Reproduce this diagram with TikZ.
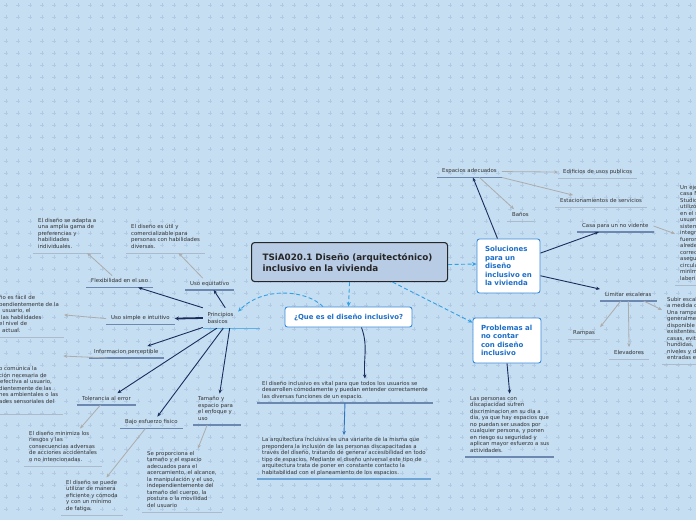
\documentclass[tikz,border=0pt]{standalone}
\usepackage{fontspec}
\setmainfont{DejaVu Sans}
\usetikzlibrary{arrows.meta}
\definecolor{bgblue}{RGB}{197,222,242}
\definecolor{plusc}{RGB}{178,202,225}
\definecolor{navy}{RGB}{27,45,92}
\definecolor{arrgrey}{RGB}{172,172,172}
\definecolor{steel}{RGB}{108,136,176}
\definecolor{pale}{RGB}{172,187,204}
\definecolor{sky}{RGB}{52,160,228}
\definecolor{boxblue}{RGB}{58,138,218}
\definecolor{boxtext}{RGB}{28,110,200}
\definecolor{mainfill}{RGB}{184,204,230}
\definecolor{txt}{RGB}{50,50,50}
\definecolor{arqline}{RGB}{110,165,215}
\definecolor{prinline}{RGB}{90,178,232}
\definecolor{arqarr}{RGB}{47,116,192}

\tikzset{
  topic/.style={font=\fontsize{5.4}{6.5}\selectfont, text=txt, align=left, inner xsep=5pt, inner ysep=2.5pt,
    execute at begin node=\strut, execute at end node=\strut},
  bluebox/.style={draw=boxblue, line width=0.9pt, fill=white, rounded corners=2.5pt, text=boxtext,
    font=\fontsize{7}{8.5}\selectfont\bfseries, align=left, inner xsep=8pt, inner ysep=0pt},
  navyarr/.style={navy, line width=0.9pt, -{Stealth[length=4pt,width=3.4pt]}},
  greyarr/.style={arrgrey, line width=0.8pt, -{Stealth[length=4pt,width=3.4pt]}},
  skyarr/.style={sky, line width=0.9pt, dash pattern=on 4pt off 2.5pt, -{Stealth[length=4.5pt,width=4pt]}},
  topicline/.style={steel, line width=1.3pt},
  descline/.style={pale, line width=0.9pt}
}

\begin{document}
\begin{tikzpicture}[x=1pt,y=-1pt]
\useasboundingbox (0,0) rectangle (696,520);
\fill[bgblue] (0,0) rectangle (696,520);
\foreach \x in {6,18,...,690}
  \foreach \y in {5,17,...,515}
    \draw[plusc,line width=0.5pt] (\x-1.6,\y) -- (\x+1.6,\y) (\x,\y-1.6) -- (\x,\y+1.6);

% main boxes
\node[draw=black!85, line width=1.1pt, fill=mainfill, rounded corners=3pt, text=black!85,
  font=\fontsize{8.8}{11}\selectfont\bfseries, align=left, text width=174pt, inner xsep=11pt,
  minimum height=39pt, anchor=north west] (central) at (251,242)
  {TSiA020.1 Diseño (arquitectónico)\\inclusivo en la vivienda};
\node[bluebox, font=\fontsize{6.9}{8}\selectfont\bfseries, align=center, minimum width=127pt,
  minimum height=20pt, inner xsep=0pt] (queesn) at (348.5,317) {¿Que es el diseño inclusivo?};
\node[bluebox, text width=47pt, minimum height=54pt] (solu) at (508.5,266)
  {Soluciones\\para un\\diseño\\inclusivo en\\la vivienda};
\node[bluebox, text width=52pt, minimum height=45pt] (probl) at (507,340.5)
  {Problemas al\\no contar\\con diseño\\inclusivo};
\node[font=\fontsize{5.4}{6.5}\selectfont, text=txt, align=left, minimum width=35pt,
  minimum height=20pt, inner sep=0pt] (prin) at (220.5,318) {Principios\\basicos};

% principles
\node[topic, anchor=south west] (equit) at (185,290) {Uso equitativo};
\node[topic, anchor=south west] (flex) at (86,287.5) {Flexibilidad en el uso};
\node[topic, anchor=south west] (usimple) at (106,324.5) {Uso simple e intuitivo};
\node[topic, anchor=south west] (infop) at (89,358) {Informacion perceptible};
\node[topic, anchor=south west] (toler) at (77,405) {Tolerancia al error};
\node[topic, anchor=south west] (bajo) at (120,428.5) {Bajo esfuerzo fisico};
\node[topic, anchor=south west, text width=38pt] (tamano) at (193,425)
  {Tamaño y\\espacio para\\el enfoque y\\uso};

\node[topic, anchor=south west] (flexd) at (33,253)
  {El diseño se adapta a\\una amplia gama de\\preferencias y\\habilidades\\individuales.};
\node[topic, anchor=south west] (equitd) at (126,253)
  {El diseño es útil y\\comercializable para\\personas con habilidades\\diversas.};
\node[topic, anchor=south west] (simpled) at (-6,337)
  {ño es fácil de\\pendientemente de la\\l usuario, el\\\hspace{2pt}las habilidades\\el nivel de\\\hspace{3pt}actual.};
\node[topic, anchor=south west] (infopd) at (-6,414.5)
  {o comunica la\\ción necesaria de\\\hspace{1pt}efectiva al usuario,\\dientemente de las\\nes ambientales o las\\ades sensoriales del\\};
\node[topic, anchor=south west] (tolerd) at (24,466)
  {El diseño minimiza los\\riesgos y las\\consecuencias adversas\\de acciones accidentales\\o no intencionadas.};
\node[topic, anchor=south west] (bajod) at (61,515)
  {El diseño se puede\\utilizar de manera\\eficiente y cómoda\\y con un mínimo\\de fatiga.};
\node[topic, anchor=south west] (tamanod) at (142,512)
  {Se proporciona el\\tamaño y el espacio\\adecuados para el\\acercamiento, el alcance,\\la manipulación y el uso,\\independientemente del\\tamaño del cuerpo, la\\postura o la movilidad\\del usuario};

% que es
\node[topic, anchor=south west] (vitald) at (257,403)
  {El diseño inclusivo es vital para que todos los usuarios se\\desarrollen cómodamente y puedan entender correctamente\\las diversas funciones de un espacio.};
\node[topic, anchor=south west] (arqd) at (257,479)
  {La arquitectura inclusiva es una variante de la misma que\\prepondera la inclusión de las personas discapacitadas a\\través del diseño, tratando de generar accesibilidad en todo\\tipo de espacios. Mediante el diseño universal este tipo de\\arquitectura trata de poner en constante contacto la\\habitabilidad con el planeamiento de los espacios.};

% soluciones / problemas
\node[topic, anchor=south west] (espacios) at (437,177.5) {Espacios adecuados};
\node[topic, anchor=south west] (edificios) at (558,178) {Edificios de usos publicos};
\node[topic, anchor=south west] (estac) at (555,207) {Estacionamientos de servicios};
\node[topic, anchor=south west] (banos) at (507,221) {Baños};
\node[topic, anchor=south west] (casa) at (577,232) {Casa para un no vidente};
\node[topic, anchor=north west] (casad) at (675,182.5)
  {Un eje\\casa N\\Studio\\utilizó\\en el s\\usuari\\sistem\\integr\\fueron\\alrede\\correc\\asegu\\circula\\minim\\laberi};
\node[topic, anchor=south west] (limitar) at (600,301) {Limitar escaleras};
\node[topic, anchor=south west] (rampas) at (568,339) {Rampas};
\node[topic, anchor=south west] (elevadores) at (609,359) {Elevadores};
\node[topic, anchor=north west] (limitard) at (662,294.5)
  {Subir escal\\a medida c\\Una rampa\\generalme\\disponible\\existentes.\\casas, evit\\hundidas,\\niveles y d\\entradas e};
\node[topic, anchor=south west] (problemd) at (465,457)
  {Las personas con\\discapacidad sufren\\discriminacion en su dia a\\dia, ya que hay espacios que\\no puedan ser usados por\\cualquier persona, y ponen\\en riesgo su seguridad y\\aplican mayor esfuerzo a sus\\actividades.};

% underlines
\foreach \n in {equit,flex,usimple,infop,toler,bajo,tamano,vitald,problemd,espacios,casa,limitar}
  \draw[topicline] (\n.south west) -- (\n.south east);
\foreach \n in {flexd,equitd,simpled,infopd,tolerd,bajod,tamanod,edificios,estac,banos,rampas,elevadores,casad,limitard}
  \draw[descline] (\n.south west) -- (\n.south east);
\draw[arqline, line width=1.3pt] (arqd.south west) -- (arqd.south east);
\draw[prinline, line width=1pt] (prin.south west) -- ([xshift=22pt]prin.south east);

% connectors
\draw[skyarr] (central.south) -- (queesn.north);
\draw[skyarr] ([xshift=-25.5pt]queesn.north) .. controls (305,289) and (262,287) .. (prin.20);
\draw[skyarr] ([yshift=-2.5pt]central.east) -- ([yshift=2pt]solu.west);
\draw[skyarr] ([xshift=43pt]central.south) -- ([yshift=-5pt]probl.north west);

\draw[navyarr] (prin.65) -- ([xshift=4pt]equit.south);
\draw[navyarr] (prin.150) -- ([xshift=18.5pt]flex.south);
\draw[navy, line width=1.8pt, -{Stealth[length=4pt,width=4pt]}] (prin.west) -- (usimple.east);
\draw[navyarr] (prin.208) -- ([xshift=21pt]infop.north);
\draw[navyarr] (prin.250) -- ([xshift=11pt]toler.north);
\draw[navyarr] (prin.285) -- ([xshift=6pt]bajo.north);
\draw[navyarr] (prin.312) -- ([xshift=2.5pt]tamano.north);

\draw[greyarr] ([xshift=-7.5pt]flex.north) -- ([xshift=20pt]flexd.south);
\draw[greyarr] ([xshift=-7pt]equit.north) -- ([xshift=13pt]equitd.south);
\draw[greyarr] (usimple.west) -- (simpled.east);
\draw[greyarr] ([xshift=-19pt]infop.south) -- ([yshift=8pt]infopd.north east);
\draw[greyarr] ([xshift=-6pt]toler.south) -- ([xshift=17pt]tolerd.north);
\draw[greyarr] ([xshift=-6pt]bajo.south) -- ([xshift=14.5pt]bajod.north);
\draw[greyarr] ([xshift=-10pt]tamano.south) -- ([xshift=16pt]tamanod.north);

\draw[navyarr] ([xshift=13pt]queesn.south) to[out=-70,in=95] ([xshift=20pt]vitald.north);
\draw[arqarr, line width=0.9pt, -{Stealth[length=4pt,width=3.4pt]}] (vitald.south) -- (arqd.north);

\draw[navyarr] ([xshift=-11pt]solu.north) -- ([xshift=3.5pt]espacios.south);
\draw[greyarr] (espacios.east) -- (edificios.west);
\draw[greyarr] (espacios.south east) -- ([xshift=-28pt]estac.north);
\draw[greyarr] ([xshift=10pt]espacios.south) -- ([xshift=-6.5pt]banos.north);
\draw[navyarr] (solu.22) -- ([xshift=-16.5pt]casa.south);
\draw[greyarr] (casa.east) -- (casad.west);
\draw[navyarr] (solu.-17) -- (limitar.north west);
\draw[greyarr] ([xshift=-7.5pt]limitar.south) -- (rampas.north east);
\draw[greyarr] (limitar.south) -- (elevadores.north);
\draw[greyarr] ([xshift=15.5pt]limitar.south) -- ([yshift=-15.5pt]limitard.north west);
\draw[navyarr] (probl.south) -- (problemd.north);
\end{tikzpicture}
\end{document}
